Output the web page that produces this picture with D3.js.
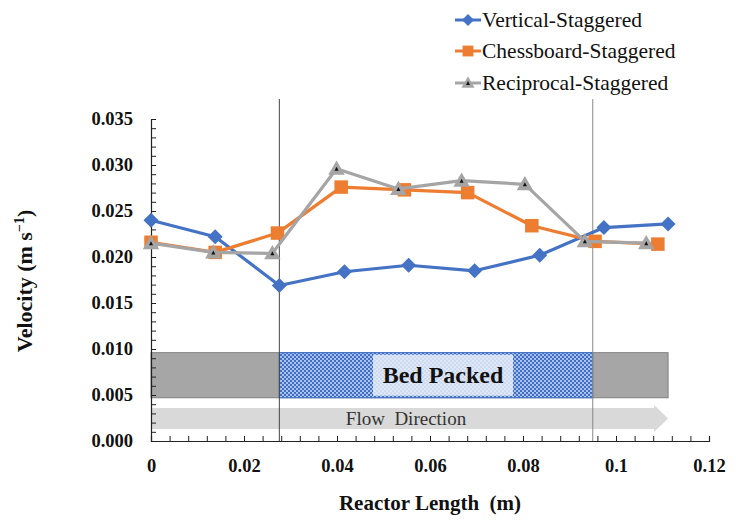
<!DOCTYPE html>
<html>
<head>
<meta charset="utf-8">
<script src="https://cdn.jsdelivr.net/npm/d3@7"></script>
<style>
  html, body { margin: 0; padding: 0; background: #fff; }
  svg { display: block; }
</style>
</head>
<body>
<svg id="chart" width="736" height="520"></svg>
<script>
// Velocity profiles along the reactor for three staggered packing layouts
const seriesNames = ["Vertical-Staggered", "Chessboard-Staggered", "Reciprocal-Staggered"];

const verticalX = [0, 0.0138, 0.0276, 0.0416, 0.0554, 0.0696, 0.0836, 0.0974, 0.1112];
const verticalY = [0.0240, 0.0222, 0.0169, 0.0184, 0.0191, 0.0185, 0.0202, 0.0232, 0.0236];

const chessX = [0, 0.0138, 0.0272, 0.0409, 0.0545, 0.0681, 0.0819, 0.0955, 0.1090];
const chessY = [0.0216, 0.0205, 0.0226, 0.0276, 0.0273, 0.0270, 0.0234, 0.0217, 0.0214];

const reciprocalX = [0, 0.0134, 0.0261, 0.0399, 0.0532, 0.0668, 0.0804, 0.0933, 0.1065];
const reciprocalY = [0.0215, 0.0205, 0.0204, 0.0296, 0.0274, 0.0283, 0.0279, 0.0217, 0.0215];

const xTickLabels = [0, 0.02, 0.04, 0.06, 0.08, 0.1, 0.12];
const yTickLabels = [0, 0.005, 0.010, 0.015, 0.020, 0.025, 0.030, 0.035];

// Packed-bed section and reactor extent (m), band height (m s^-1)
const bedStart = 0.0276, bedEnd = 0.0950, reactorEnd = 0.1112;
const bandBottom = 0.0047, bandTop = 0.0096;

const colors = ["#4472c4", "#ed7d31", "#a5a5a5"];
const SERIF = '"Liberation Serif", "Times New Roman", serif';

const svg = d3.select("#chart");
const x = d3.scaleLinear().domain([0, 0.12]).range([151, 709]);
const y = d3.scaleLinear().domain([0, 0.035]).range([441, 119]);

// hatch pattern for the packed bed
const defs = svg.append("defs");
const pat = defs.append("pattern").attr("id", "bedHatch")
  .attr("patternUnits", "userSpaceOnUse").attr("width", 4).attr("height", 4);
pat.append("rect").attr("width", 4).attr("height", 4).attr("fill", "#3f6fc9");
pat.append("circle").attr("cx", 1).attr("cy", 1).attr("r", 0.9).attr("fill", "#dfe8f7");
pat.append("circle").attr("cx", 3).attr("cy", 3).attr("r", 0.9).attr("fill", "#dfe8f7");

// reactor band
svg.append("rect")
  .attr("x", x(0)).attr("y", y(bandTop))
  .attr("width", x(reactorEnd) - x(0)).attr("height", y(bandBottom) - y(bandTop))
  .attr("fill", "#a6a6a6").attr("stroke", "#808080").attr("stroke-width", 1);
svg.append("rect")
  .attr("x", x(bedStart)).attr("y", y(bandTop))
  .attr("width", x(bedEnd) - x(bedStart)).attr("height", y(bandBottom) - y(bandTop))
  .attr("fill", "url(#bedHatch)").attr("stroke", "#3f6fc9").attr("stroke-width", 1);
const labelMid = 443;
svg.append("rect")
  .attr("x", labelMid - 70).attr("y", y(bandTop) + 2)
  .attr("width", 140).attr("height", y(bandBottom) - y(bandTop) - 4)
  .attr("fill", "#e6edf8").attr("opacity", 0.85);
svg.append("text")
  .attr("x", labelMid).attr("y", (y(bandTop) + y(bandBottom)) / 2 + 8)
  .attr("text-anchor", "middle").style("font-family", SERIF)
  .attr("font-weight", "bold").attr("font-size", 24).attr("fill", "#111")
  .text("Bed Packed");

// flow direction arrow
const ay0 = 408, ay1 = 429, headX = x(reactorEnd), bodyEnd = headX - 14;
svg.append("path")
  .attr("d", `M${x(0)},${ay0} L${bodyEnd},${ay0} L${bodyEnd},${ay0 - 3} L${headX},${(ay0 + ay1) / 2} L${bodyEnd},${ay1 + 3} L${bodyEnd},${ay1} L${x(0)},${ay1} Z`)
  .attr("fill", "#d9d9d9");
svg.append("text")
  .attr("x", 406).attr("y", 425)
  .attr("text-anchor", "middle").style("font-family", SERIF)
  .attr("font-size", 19).attr("fill", "#333")
  .style("white-space", "pre")
  .text("Flow  Direction");

// bed boundaries
[bedStart, bedEnd].forEach((b, i) => {
  svg.append("line")
    .attr("x1", x(b)).attr("x2", x(b)).attr("y1", 99).attr("y2", 441)
    .attr("stroke", i === 0 ? "#444" : "#888").attr("stroke-width", 1);
});

// axes with inward minor ticks
const yMinor = d3.range(0, 36).map(d => d / 1000);
const yAxis = d3.axisLeft(y).tickValues(yMinor).tickSize(-5).tickPadding(18)
  .tickFormat(d => (Math.round(d * 1000) % 5 === 0 ? d3.format(".3f")(d) : ""));
const gy = svg.append("g").attr("transform", `translate(${x(0)},0)`).call(yAxis);

const xMinor = d3.range(0, 31).map(d => d * 0.004);
const xAxis = d3.axisBottom(x).tickValues(xMinor).tickSize(-5).tickPadding(18)
  .tickFormat(d => {
    const k = Math.round(d * 1000);
    return k % 20 === 0 ? String(+(d.toFixed(2))) : "";
  });
const gx = svg.append("g").attr("transform", `translate(0,${y(0)})`).call(xAxis);

[gx, gy].forEach(g => {
  g.attr("font-family", null).attr("font-size", null);
  g.select(".domain").attr("stroke", "#222").attr("stroke-width", 1.2);
  g.selectAll(".tick line").attr("stroke", "#222");
  g.selectAll("text").style("font-family", SERIF).attr("font-weight", "bold")
    .attr("font-size", 18.5).attr("fill", "#111");
});
gx.selectAll("text").attr("dy", "0.71em");

// axis titles
svg.append("text")
  .attr("transform", "translate(32,281) rotate(-90)")
  .attr("text-anchor", "middle").style("font-family", SERIF)
  .attr("font-weight", "bold").attr("font-size", 22).attr("fill", "#111")
  .html('Velocity (m s<tspan dy="-8" font-size="14">−1</tspan><tspan dy="8">)</tspan>');
svg.append("text")
  .attr("x", 430).attr("y", 510)
  .attr("text-anchor", "middle").style("font-family", SERIF)
  .attr("font-weight", "bold").attr("font-size", 21).attr("fill", "#111")
  .style("white-space", "pre")
  .text("Reactor Length  (m)");

// markers
function drawMarker(g, kind, cx, cy, color, s) {
  if (kind === 0) {
    g.append("path").attr("d", `M${cx},${cy - s} L${cx + s},${cy} L${cx},${cy + s} L${cx - s},${cy} Z`)
      .attr("fill", color);
  } else if (kind === 1) {
    g.append("rect").attr("x", cx - s * 0.9).attr("y", cy - s * 0.9)
      .attr("width", s * 1.8).attr("height", s * 1.8).attr("fill", color);
  } else {
    g.append("path").attr("d", `M${cx},${cy - s * 1.1} L${cx + s * 1.1},${cy + s * 0.8} L${cx - s * 1.1},${cy + s * 0.8} Z`)
      .attr("fill", color);
    g.append("path").attr("d", `M${cx},${cy - 2} L${cx + 2},${cy + 2} L${cx - 2},${cy + 2} Z`)
      .attr("fill", "#111");
  }
}

const series = [
  { xs: verticalX, ys: verticalY },
  { xs: chessX, ys: chessY },
  { xs: reciprocalX, ys: reciprocalY }
];
const line = d3.line().x(d => x(d[0])).y(d => y(d[1]));

series.forEach((s, i) => {
  const pts = s.xs.map((v, j) => [v, s.ys[j]]);
  const g = svg.append("g");
  g.append("path").attr("d", line(pts)).attr("fill", "none")
    .attr("stroke", colors[i]).attr("stroke-width", 3.2).attr("stroke-linejoin", "round");
  pts.forEach(p => drawMarker(g, i, x(p[0]), y(p[1]), colors[i], 7.5));
});

// legend
const legendY = [20, 51, 83];
seriesNames.forEach((name, i) => {
  const g = svg.append("g");
  const ly = legendY[i];
  g.append("line").attr("x1", 455).attr("x2", 481).attr("y1", ly).attr("y2", ly)
    .attr("stroke", colors[i]).attr("stroke-width", 3);
  drawMarker(g, i, 468, ly, colors[i], 6);
  g.append("text").attr("x", 482).attr("y", ly + 7)
    .style("font-family", SERIF).attr("font-size", 21.5).attr("fill", "#111")
    .text(name);
});
</script>
</body>
</html>
